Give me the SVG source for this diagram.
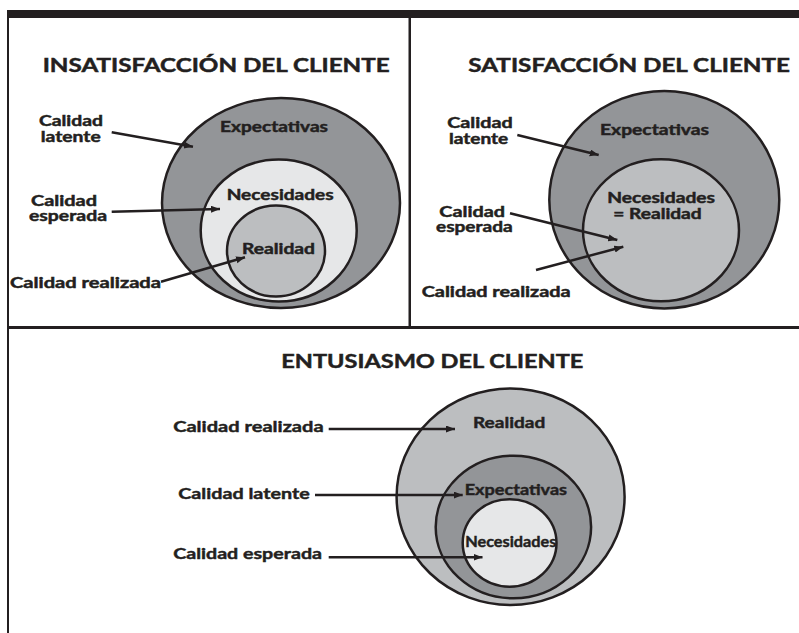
<svg xmlns="http://www.w3.org/2000/svg" width="799" height="633" viewBox="0 0 799 633">
<defs>
<style>
text{font-family:Lato,"Liberation Sans",sans-serif;font-weight:bold;fill:#231f20;stroke:#231f20;stroke-width:0.45}
.t{font-size:18px}
.l{font-size:14.2px}
.b{font-size:16px}
.e{stroke:#231f20;stroke-width:2.5}
.c{stroke:#231f20;stroke-width:2.5;fill:none;marker-end:url(#ah)}
.d1{fill:#939598}.d2{fill:#e6e7e8}.d3{fill:#bcbec0}
</style>
<marker id="ah" markerUnits="userSpaceOnUse" markerWidth="10" markerHeight="8" refX="9" refY="3.5" orient="auto">
<path d="M0,0 L9,3.5 L0,7 z" fill="#231f20"/>
</marker>
</defs>
<rect width="799" height="633" fill="#fff"/>
<g id="frame" fill="#231f20">
<rect x="7" y="10" width="792" height="8"/>
<rect x="7" y="10" width="2" height="623"/>
<rect x="408.5" y="18" width="2.5" height="310"/>
<rect x="7" y="326" width="792" height="3"/>
</g>
<g id="panel-insatisfaccion">
<text class="t" x="42.7" y="71.7" textLength="347" lengthAdjust="spacingAndGlyphs">INSATISFACCIÓN DEL CLIENTE</text>
<g id="tl-expectativas"><ellipse class="e d1" cx="281" cy="203" rx="119" ry="105"/><text class="l" x="220" y="131.5" textLength="108" lengthAdjust="spacingAndGlyphs">Expectativas</text></g>
<g id="tl-necesidades"><ellipse class="e d2" cx="278.7" cy="230.5" rx="78" ry="71"/><text class="l" x="226.7" y="200" textLength="107" lengthAdjust="spacingAndGlyphs">Necesidades</text></g>
<g id="tl-realidad"><ellipse class="e d3" cx="276" cy="251" rx="49" ry="45.5"/><text class="l" x="242" y="254" textLength="73" lengthAdjust="spacingAndGlyphs">Realidad</text></g>
<g id="tl-lbl-latente"><text class="l" x="39" y="126" textLength="64" lengthAdjust="spacingAndGlyphs">Calidad</text><text class="l" x="40.7" y="141.5" textLength="60" lengthAdjust="spacingAndGlyphs">latente</text></g>
<g id="tl-lbl-esperada"><text class="l" x="31" y="205.5" textLength="66" lengthAdjust="spacingAndGlyphs">Calidad</text><text class="l" x="29" y="220.5" textLength="78" lengthAdjust="spacingAndGlyphs">esperada</text></g>
<g id="tl-lbl-realizada"><text class="l" x="10" y="287.5" textLength="151" lengthAdjust="spacingAndGlyphs">Calidad realizada</text></g>
</g>
<g id="panel-satisfaccion">
<text class="t" x="468.3" y="71.7" textLength="321.7" lengthAdjust="spacingAndGlyphs">SATISFACCIÓN DEL CLIENTE</text>
<g id="tr-expectativas"><ellipse class="e d1" cx="664.3" cy="199.7" rx="115" ry="108.7"/><text class="l" x="600" y="135" textLength="109" lengthAdjust="spacingAndGlyphs">Expectativas</text></g>
<g id="tr-necesidades"><ellipse class="e d3" cx="661" cy="230.3" rx="78" ry="71"/><text class="l" x="607.3" y="203" textLength="107.7" lengthAdjust="spacingAndGlyphs">Necesidades</text><text class="l" x="613.3" y="218.5" textLength="88.4" lengthAdjust="spacingAndGlyphs">= Realidad</text></g>
<g id="tr-lbl-latente"><text class="l" x="447.3" y="128.3" textLength="65.4" lengthAdjust="spacingAndGlyphs">Calidad</text><text class="l" x="449" y="144" textLength="59.3" lengthAdjust="spacingAndGlyphs">latente</text></g>
<g id="tr-lbl-esperada"><text class="l" x="439.3" y="216.5" textLength="65.7" lengthAdjust="spacingAndGlyphs">Calidad</text><text class="l" x="436" y="231.5" textLength="76.7" lengthAdjust="spacingAndGlyphs">esperada</text></g>
<g id="tr-lbl-realizada"><text class="l" x="421.7" y="296.7" textLength="149" lengthAdjust="spacingAndGlyphs">Calidad realizada</text></g>
</g>
<g id="panel-entusiasmo">
<text class="t" x="281.3" y="368.3" textLength="302" lengthAdjust="spacingAndGlyphs">ENTUSIASMO DEL CLIENTE</text>
<g id="b-realidad"><ellipse class="e d3" cx="510.6" cy="496.7" rx="114" ry="108.3"/><text class="b" x="473" y="428.3" textLength="72.3" lengthAdjust="spacingAndGlyphs">Realidad</text></g>
<g id="b-expectativas"><ellipse class="e d1" cx="513.4" cy="527" rx="77.7" ry="71.3"/><text class="b" x="464.7" y="495" textLength="102.4" lengthAdjust="spacingAndGlyphs">Expectativas</text></g>
<g id="b-necesidades"><ellipse class="e d2" cx="509.6" cy="543" rx="46.9" ry="43.7"/><text class="b" x="465.2" y="546.7" textLength="91.2" lengthAdjust="spacingAndGlyphs">Necesidades</text></g>
<g id="b-lbl-realizada"><text class="b" x="173.2" y="432.3" textLength="150.4" lengthAdjust="spacingAndGlyphs">Calidad realizada</text></g>
<g id="b-lbl-latente"><text class="b" x="178.3" y="499.3" textLength="131.5" lengthAdjust="spacingAndGlyphs">Calidad latente</text></g>
<g id="b-lbl-esperada"><text class="b" x="173.2" y="559" textLength="148.8" lengthAdjust="spacingAndGlyphs">Calidad esperada</text></g>
</g>
<g id="connectors">
<line class="c" x1="111.7" y1="132.3" x2="193" y2="146.7"/>
<line class="c" x1="111.7" y1="211.7" x2="220" y2="209"/>
<line class="c" x1="161" y1="281.7" x2="245" y2="257.3"/>
<line class="c" x1="517.3" y1="135" x2="598.7" y2="155"/>
<line class="c" x1="510" y1="213.3" x2="617.3" y2="240"/>
<line class="c" x1="536" y1="270" x2="623.3" y2="246.7"/>
<line class="c" x1="328.7" y1="429" x2="455" y2="429"/>
<line class="c" x1="315" y1="495" x2="462.7" y2="495"/>
<line class="c" x1="328.7" y1="557.3" x2="482.5" y2="557.3"/>
</g>
</svg>
